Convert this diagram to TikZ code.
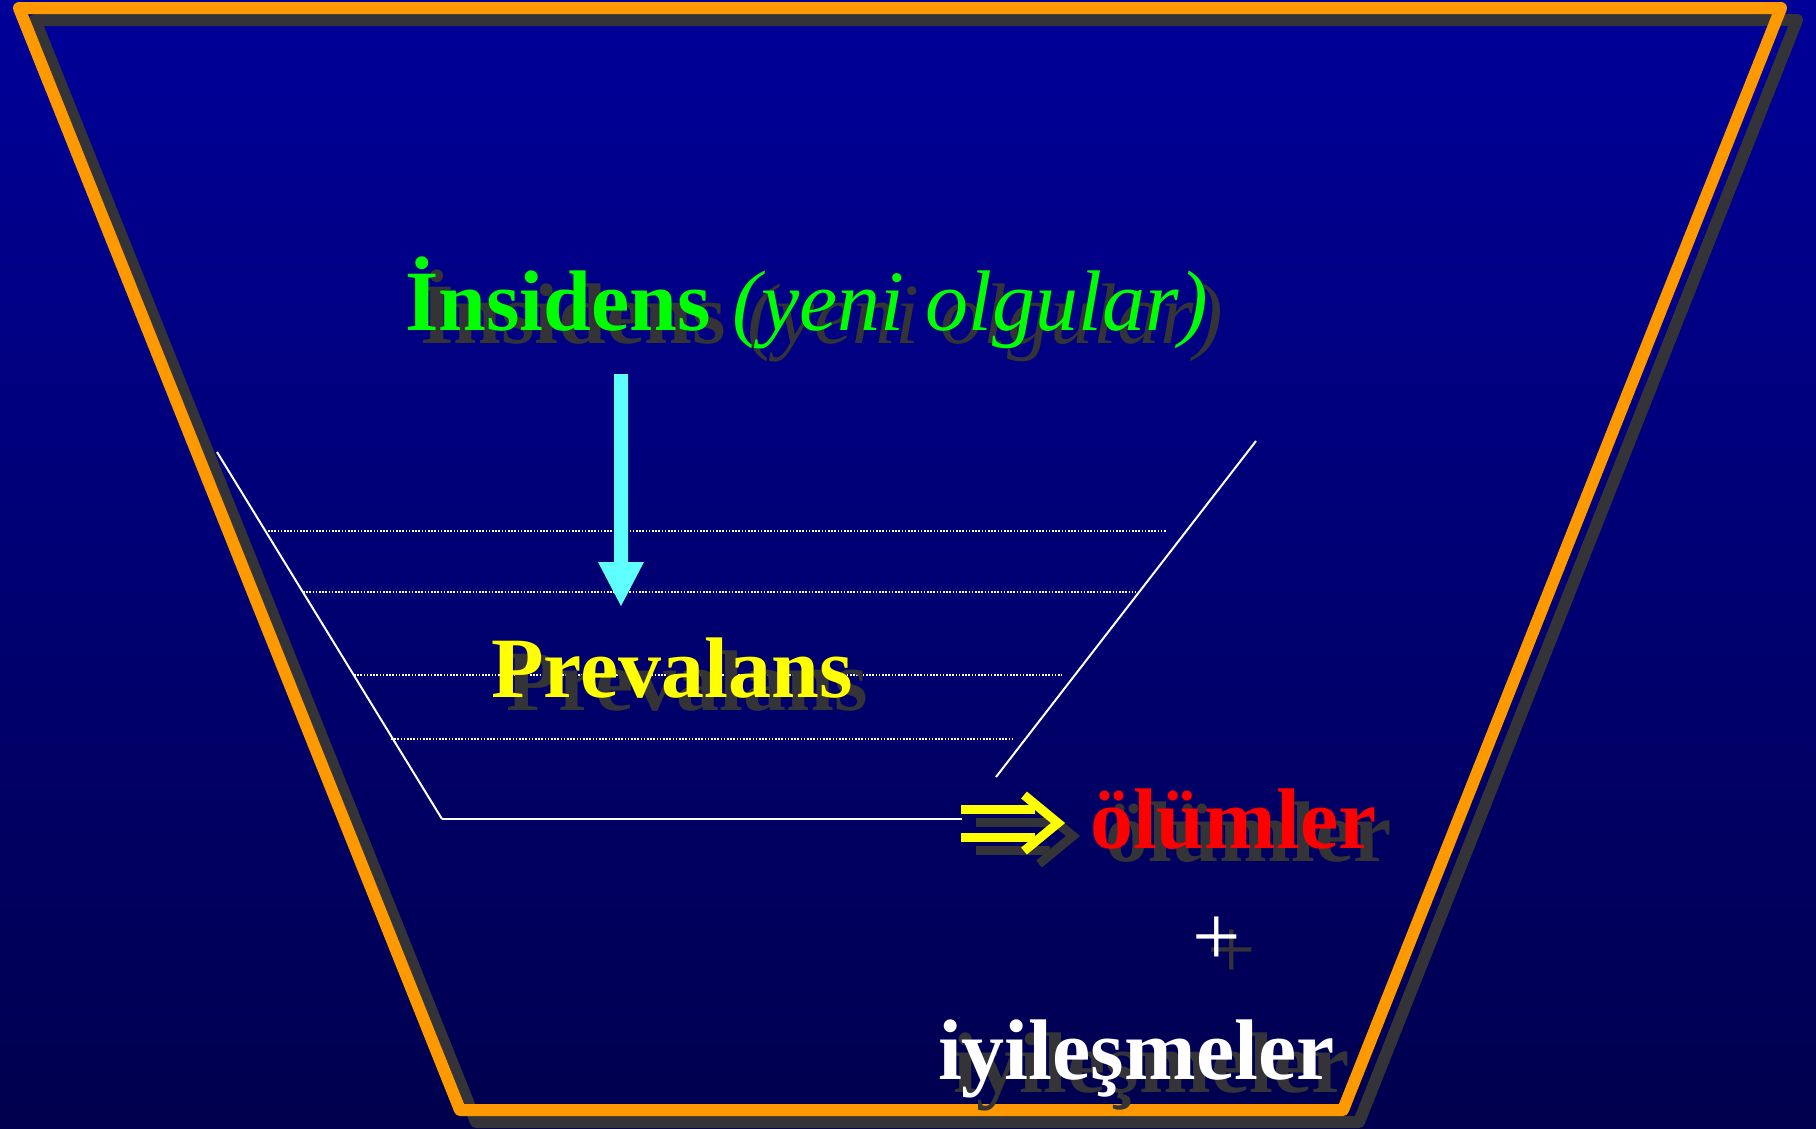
\documentclass[tikz,border=0pt]{standalone}
\usepackage{fontspec}
\setmainfont{Liberation Serif}
\definecolor{bgtop}{RGB}{0,0,153}
\definecolor{bgbot}{RGB}{0,0,78}
\definecolor{frameorange}{RGB}{255,153,0}
\definecolor{shadowgray}{RGB}{52,52,56}
\definecolor{incgreen}{RGB}{0,255,0}
\definecolor{arrowcyan}{RGB}{95,255,255}
\definecolor{prevyellow}{RGB}{255,255,0}
\definecolor{deathred}{RGB}{255,0,0}
\begin{document}
\begin{tikzpicture}[x=1pt,y=-1pt,
  txt/.style={inner sep=0pt, outer sep=0pt, font=\fontsize{86}{100}\selectfont\bfseries},
  shtxt/.style={text=shadowgray},
  framepath/.style={line width=12pt, line join=round},
  funnel/.style={white, line width=2pt},
  level/.style={white, line width=1.6pt, dash pattern=on 1.6pt off 1.6pt},
  dblarrow/.style={line width=9pt, line join=miter}
]
\useasboundingbox (0,0) rectangle (1816,1128);
\shade[top color=bgtop, bottom color=bgbot] (0,0) rectangle (1816,1128);

% frame (shadow then orange)
\draw[framepath, shadowgray] (35,20) -- (1797,20) -- (1359,1122) -- (476,1122) -- cycle;
\draw[framepath, frameorange] (19,8) -- (1781,8) -- (1343,1110) -- (460,1110) -- cycle;

% funnel
\coordinate (fl1) at (217,452);
\coordinate (fl2) at (442,819);
\coordinate (fb2) at (962,819);
\coordinate (fr1) at (1256,441);
\coordinate (fr2) at (996,777);
\draw[funnel] (fl1) -- (fl2);
\draw[white, line width=2.6pt] (fl2) -- (fb2);
\draw[funnel] (fr1) -- (fr2);

% dotted levels
\coordinate (d1a) at (268,531); \coordinate (d1b) at (1167,531);
\coordinate (d2a) at (303,592); \coordinate (d2b) at (1136,592);
\coordinate (d3a) at (354,675); \coordinate (d3b) at (1062,675);
\coordinate (d4a) at (391,739); \coordinate (d4b) at (1013,739);
\draw[level] (d1a) -- (d1b);
\draw[level] (d2a) -- (d2b);
\draw[level] (d3a) -- (d3b);
\draw[level] (d4a) -- (d4b);

% texts: shadows
\node[txt, shtxt, anchor=base west] (incsh) at (420,343)
  {İnsidens {\mdseries\itshape (yeni olgular)}};
\node[txt, shtxt, anchor=base west] (prevsh) at (506,710) {Prevalans};
\node[txt, shtxt, anchor=base west] (olumsh) at (1105,861) {ölümler};
\node[txt, shtxt, anchor=base, font=\fontsize{86}{100}\selectfont\mdseries] (plussh) at (1232,978) {+};
\node[txt, shtxt, anchor=base west] (iyish) at (953,1092) {iyileşmeler};

% double arrow shadow
\draw[dblarrow, shadowgray] (976,822) -- (1050,822);
\draw[dblarrow, shadowgray] (976,850) -- (1050,850);
\draw[dblarrow, shadowgray] (1039,808) -- (1073,836) -- (1039,864);

% texts
\node[txt, text=incgreen, anchor=base west] (inc) at (405,330)
  {İnsidens {\mdseries\itshape (yeni olgular)}};
\node[txt, text=prevyellow, anchor=base west] (prev) at (491,697) {Prevalans};
\node[txt, text=deathred, anchor=base west] (olum) at (1090,848) {ölümler};
\node[txt, text=white, anchor=base, font=\fontsize{86}{100}\selectfont\mdseries] (plus) at (1217,965) {+};
\node[txt, text=white, anchor=base west] (iyi) at (938,1079) {iyileşmeler};

% yellow double arrow
\draw[dblarrow, prevyellow] (961,809) -- (1035,809);
\draw[dblarrow, prevyellow] (961,837) -- (1035,837);
\draw[dblarrow, prevyellow] (1024,795) -- (1058,823) -- (1024,851);

% cyan arrow
\fill[arrowcyan] (614,374) -- (628,374) -- (628,562) -- (644,562) -- (621,606)
  -- (598,562) -- (614,562) -- cycle;
\end{tikzpicture}
\end{document}
